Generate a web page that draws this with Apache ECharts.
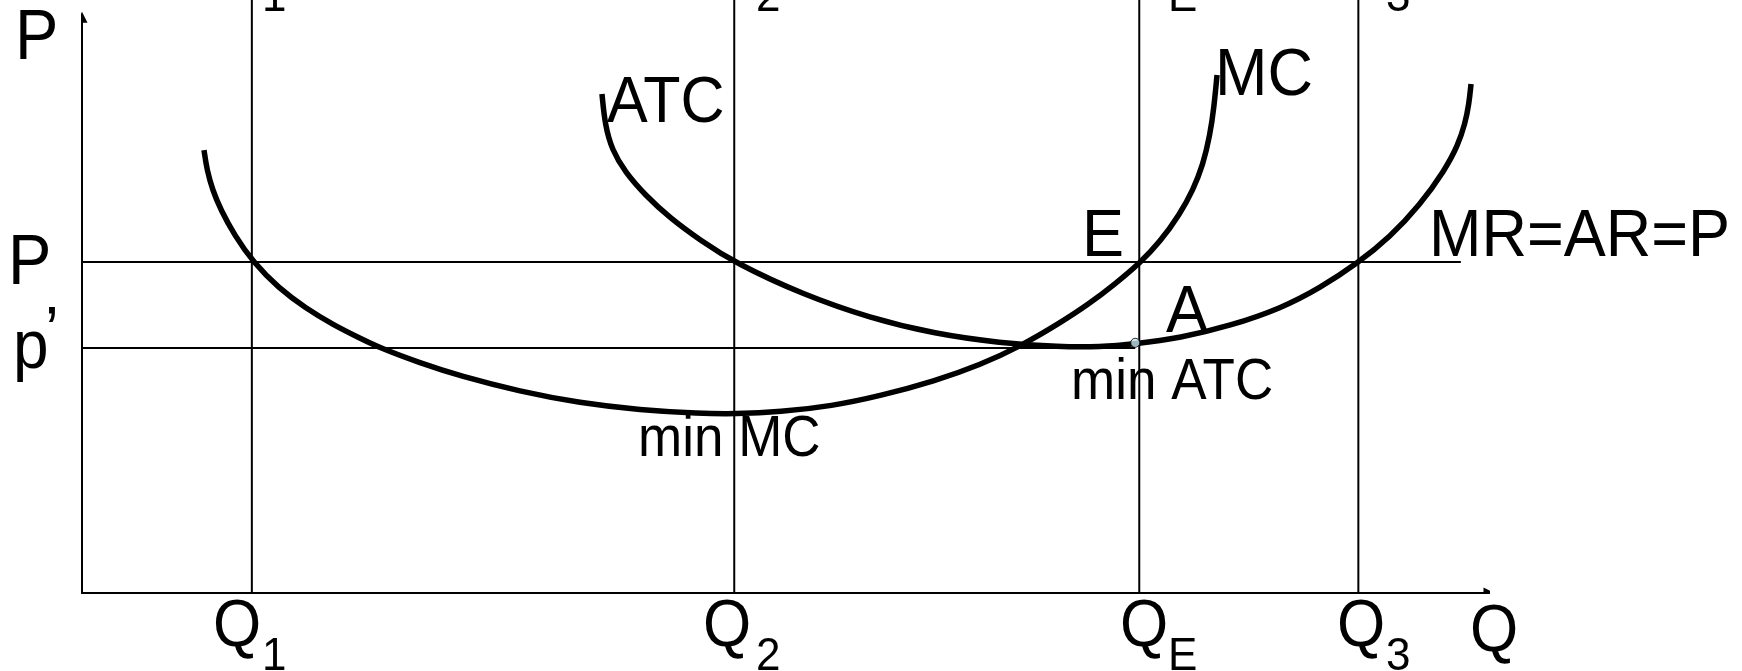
<!DOCTYPE html>
<html>
<head>
<meta charset="utf-8">
<script src="https://cdn.jsdelivr.net/npm/echarts@6/dist/echarts.min.js"></script>
<style>
html,body{margin:0;padding:0;background:#fff;}
#c{width:1742px;height:671px;}
</style>
</head>
<body>
<div id="c"></div>
<script>
// Quantity markers (x, arbitrary units 0..140) and price levels (y, 0..100)
const qNames = ['Q1', 'Q2', 'QE', 'Q3'];
const qValues = [16.9, 64.9, 105.2, 127.0];
const priceP = 55.8;        // MR=AR=P
const priceP1 = 41.3;       // p'
const pLineEnd = 137.2;
const p1LineEnd = 104.8;
// Marginal cost curve
const mcCurve = [[12.14,74.70],[12.43,71.33],[12.99,67.96],[13.81,64.59],[15.15,60.40],[17.07,55.68],[19.56,51.43],[22.22,48.06],[25.03,45.19],[27.62,43.00],[29.65,41.32],[33.63,38.79],[37.61,36.59],[43.58,33.98],[49.55,32.04],[55.52,30.86],[61.49,30.27],[64.98,30.19],[69.45,30.52],[74.63,31.53],[79.40,33.22],[84.88,35.75],[89.35,38.45],[93.43,41.65],[97.31,45.53],[100.20,48.74],[102.79,52.11],[105.27,55.65],[107.26,59.19],[109.25,63.91],[110.55,67.96],[111.54,72.18],[112.24,77.23],[112.64,81.96],[112.94,87.35]];
// Average total cost curve
const atcCurve = [[51.74,84.15],[52.04,78.92],[52.74,74.70],[54.03,71.00],[56.02,67.12],[58.51,63.24],[61.49,59.53],[64.98,55.65],[71.84,50.25],[78.41,46.37],[84.88,43.68],[91.34,42.16],[97.31,41.48],[101.29,41.48],[104.78,41.99],[109.25,43.00],[114.23,45.03],[119.40,48.06],[123.18,51.43],[126.97,55.65],[130.15,60.03],[133.13,65.43],[135.62,71.33],[136.92,75.55],[137.61,79.09],[138.01,82.46],[138.21,85.83]];
const minATC = [104.8, 42.2];
const axisX = [[0,0],[140,0]];
const axisY = [[0,-1.7],[0,97.1]];

const FONT = '"Liberation Sans", Arial, sans-serif';
const chart = echarts.init(document.getElementById('c'));

const thin = {color:'#000', width:2};
const series = [];
qValues.forEach(q => {
  series.push({type:'line', data:[[q,0],[q,100]], symbol:'none', clip:false, lineStyle:thin, z:2});
});
series.push({type:'line', data:[[0,priceP],[pLineEnd,priceP]], symbol:'none', clip:false, lineStyle:thin, z:2});
series.push({type:'line', data:[[0,priceP1],[p1LineEnd,priceP1]], symbol:'none', clip:false, lineStyle:thin, z:2});
series.push({type:'lines', coordinateSystem:'cartesian2d', polyline:false,
  symbol:['none','triangle'], symbolSize:[1,11],
  itemStyle:{color:'#000'},
  lineStyle:{color:'#000', width:2, opacity:1},
  data:[{coords:axisX},{coords:axisY}], z:3});

// smooth curve through the read points (clamped cubic B-spline, pixel space)
function curveSeries(points){
  return {
    type:'custom', data:points, z:5, clip:false,
    encode:{x:0, y:1},
    renderItem:function(params, api){
      if (params.dataIndex !== 0) return null;
      const raw = points.map(v => api.coord(v));
      const p = [raw[0], raw[0]].concat(raw, [raw[raw.length-1], raw[raw.length-1]]);
      const P = (a,b,c,wa,wb,wc) => [(a[0]*wa+b[0]*wb+c[0]*wc)/(wa+wb+wc), (a[1]*wa+b[1]*wb+c[1]*wc)/(wa+wb+wc)];
      let s = P(p[0],p[1],p[2],1,4,1);
      let d = 'M' + s[0] + ' ' + s[1];
      for (let i = 1; i < p.length - 2; i++){
        const b = p[i], c = p[i+1], e = p[i+2];
        const c1 = [(2*b[0]+c[0])/3, (2*b[1]+c[1])/3];
        const c2 = [(b[0]+2*c[0])/3, (b[1]+2*c[1])/3];
        const en = P(b,c,e,1,4,1);
        d += ' C' + c1[0] + ' ' + c1[1] + ' ' + c2[0] + ' ' + c2[1] + ' ' + en[0] + ' ' + en[1];
      }
      return {type:'path', shape:{pathData:d}, style:{stroke:'#000', lineWidth:5.5, fill:null, lineCap:'butt', lineJoin:'round'}};
    }
  };
}
series.push(curveSeries(mcCurve));
series.push(curveSeries(atcCurve));
series.push({type:'scatter', data:[minATC], symbolSize:9, itemStyle:{color:'#c6e4ec', borderColor:'#000', borderWidth:1}, z:6});

const SY = 1.07;
function txt(t, x, y, size){
  return {type:'text', z:10, x:x, y:y, scaleX:1, scaleY:SY,
    style:{text:t, x:0, y:0, font: size+'px '+FONT, fill:'#000',
    textAlign:'left', textVerticalAlign:'middle', align:'left', verticalAlign:'middle'}};
}
const subX = [262, 756, 1168, 1386];
const qX = [213, 703, 1120, 1337];
const subs = ['1','2','E','3'];
const graphics = [
  txt('P', 15, 40, 65),
  txt('P', 8, 265, 65),
  txt('p', 13, 349, 64),
  txt('\u2019', 45, 335, 62),
  txt('ATC', 607, 104, 61),
  txt('MC', 1215, 76, 63),
  txt('E', 1082, 237, 63),
  txt('A', 1166, 313, 63),
  txt('MR=AR=P', 1429, 237, 63),
  txt('min ATC', 1071, 383, 53),
  txt('min MC', 638, 440, 53),
  txt('Q', 1470, 633, 62)
];
qNames.forEach((n, i) => {
  graphics.push(txt('Q', qX[i], 628, 62));
  graphics.push(txt(subs[i], subX[i], 657, 44));
  graphics.push(txt(subs[i], subX[i], -2, 44));
});

chart.setOption({
  animation:false,
  backgroundColor:'#fff',
  grid:{left:82, right:253, top:0, bottom:78},
  xAxis:{type:'value', min:0, max:140, show:false},
  yAxis:{type:'value', min:0, max:100, show:false},
  series: series,
  graphic: graphics
});
</script>
</body>
</html>
